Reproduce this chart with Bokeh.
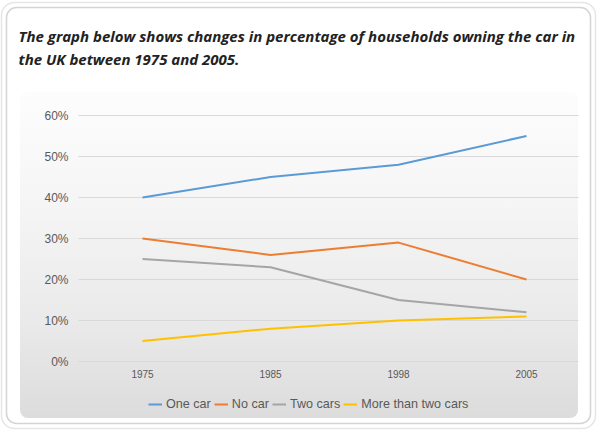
import base64
from bokeh.plotting import figure
from bokeh.models import Range1d, FixedTicker, Legend, LegendItem, Label
from bokeh.embed import file_html
from bokeh.resources import INLINE

# ---- data ----
years = ["1975", "1985", "1998", "2005"]
one_car = [40, 45, 48, 55]
no_car = [30, 26, 29, 20]
two_cars = [25, 23, 15, 12]
more_than_two = [5, 8, 10, 11]
y_ticks = [0, 10, 20, 30, 40, 50, 60]
y_tick_labels = ["0%", "10%", "20%", "30%", "40%", "50%", "60%"]
series_names = ["One car", "No car", "Two cars", "More than two cars"]
series_colors = ["#5B9BD5", "#ED7D31", "#A5A5A5", "#FFC000"]
title_lines = ["The graph below shows changes in percentage of households owning the car in",
               "the UK between 1975 and 2005."]

W, H = 602, 430

# decorative background (card border + gradient chart area)
bg_svg = f"""<svg xmlns='http://www.w3.org/2000/svg' width='{W}' height='{H}'>
<defs><linearGradient id='g' x1='0' y1='0' x2='0' y2='1'>
<stop offset='0' stop-color='#fdfdfd'/><stop offset='0.35' stop-color='#f5f5f5'/>
<stop offset='0.7' stop-color='#eaeaea'/><stop offset='1' stop-color='#dcdcdc'/>
</linearGradient></defs>
<rect x='1.5' y='2.5' width='594' height='426' rx='13' fill='none' stroke='#e6e6e6' stroke-width='1.5'/>
<rect x='6.5' y='7.5' width='584' height='416' rx='10' fill='white' stroke='#d4d4d4' stroke-width='1.5'/>
<rect x='20' y='92' width='558' height='326' rx='8' fill='url(#g)'/>
</svg>"""
bg_b64 = base64.b64encode(bg_svg.encode()).decode()

# plot area geometry (pixels): first category at x=142, 128 px apart; 0% at y=361, 4.1 px per %
X0, DX, Y0, DY = 142, 128, 361, 4.1
x_range = Range1d(-X0 / DX, (W - X0) / DX)
y_range = Range1d(-(H - Y0) / DY, Y0 / DY)
grid_left, grid_right = -0.5, (578 - X0) / DX
x_axis_at = (Y0 - 367) / DY

p = figure(width=W, height=H, output_backend="svg", toolbar_location=None,
           x_range=x_range, y_range=y_range,
           min_border_left=0, min_border_right=0, min_border_top=0, min_border_bottom=0)
p.title_location = None
p.background_fill_color = None
p.border_fill_color = None
p.outline_line_color = None
p.styles = {"background-image": f"url('data:image/svg+xml;base64,{bg_b64}')",
            "background-repeat": "no-repeat"}

# grid lines restricted to the plot area
if "cross_bounds" in p.ygrid[0].properties():
    p.ygrid.ticker = FixedTicker(ticks=y_ticks)
    p.ygrid.cross_bounds = (grid_left, grid_right)
    p.ygrid.grid_line_color = "#d9d9d9"
else:
    p.ygrid.grid_line_color = None
    p.segment(x0=grid_left, x1=grid_right, y0=y_ticks, y1=y_ticks,
              line_color="#d9d9d9", line_width=1)
p.xgrid.grid_line_color = None

xs = list(range(len(years)))
renderers = []
for name, col, vals in zip(series_names, series_colors,
                           [one_car, no_car, two_cars, more_than_two]):
    r = p.line(xs, vals, line_color=col, line_width=2)
    renderers.append(r)

# axes drawn at fixed positions inside the canvas
p.xaxis.ticker = FixedTicker(ticks=xs)
p.xaxis.major_label_overrides = {i: y for i, y in enumerate(years)}
p.xaxis.fixed_location = x_axis_at
p.yaxis.ticker = FixedTicker(ticks=y_ticks)
p.yaxis.major_label_overrides = {v: s for v, s in zip(y_ticks, y_tick_labels)}
p.yaxis.fixed_location = grid_left
for ax in (p.xaxis, p.yaxis):
    ax.axis_line_color = None
    ax.major_tick_line_color = None
    ax.minor_tick_line_color = None
    ax.major_tick_in = 0
    ax.major_tick_out = 0
    ax.major_label_text_font = "Liberation Sans"
    ax.major_label_text_color = "#595959"
p.yaxis.major_label_text_font_size = "12px"
p.yaxis.major_label_standoff = 10
p.xaxis.major_label_text_font_size = "10px"
p.xaxis.major_label_standoff = 2

# title lines
for k, line in enumerate(title_lines):
    p.add_layout(Label(x=18, y=35 + 23 * k, x_units="canvas", y_units="canvas",
                       text=line, text_font="Open Sans", text_font_style="bold italic",
                       text_font_size="15px", text_color="#222222",
                       text_baseline="middle", text_align="left"))

legend = Legend(items=[LegendItem(label=nm, renderers=[r]) for nm, r in zip(series_names, renderers)],
                orientation="horizontal", location=(148, 19),
                background_fill_alpha=0, border_line_color=None,
                label_text_font="Liberation Sans", label_text_font_size="12.6px",
                label_text_color="#595959", glyph_width=14, glyph_height=12,
                label_standoff=4, spacing=3, padding=0, margin=0,
                label_height=12)
p.add_layout(legend, "center")

open("out.html", "w").write(file_html(p, INLINE))
